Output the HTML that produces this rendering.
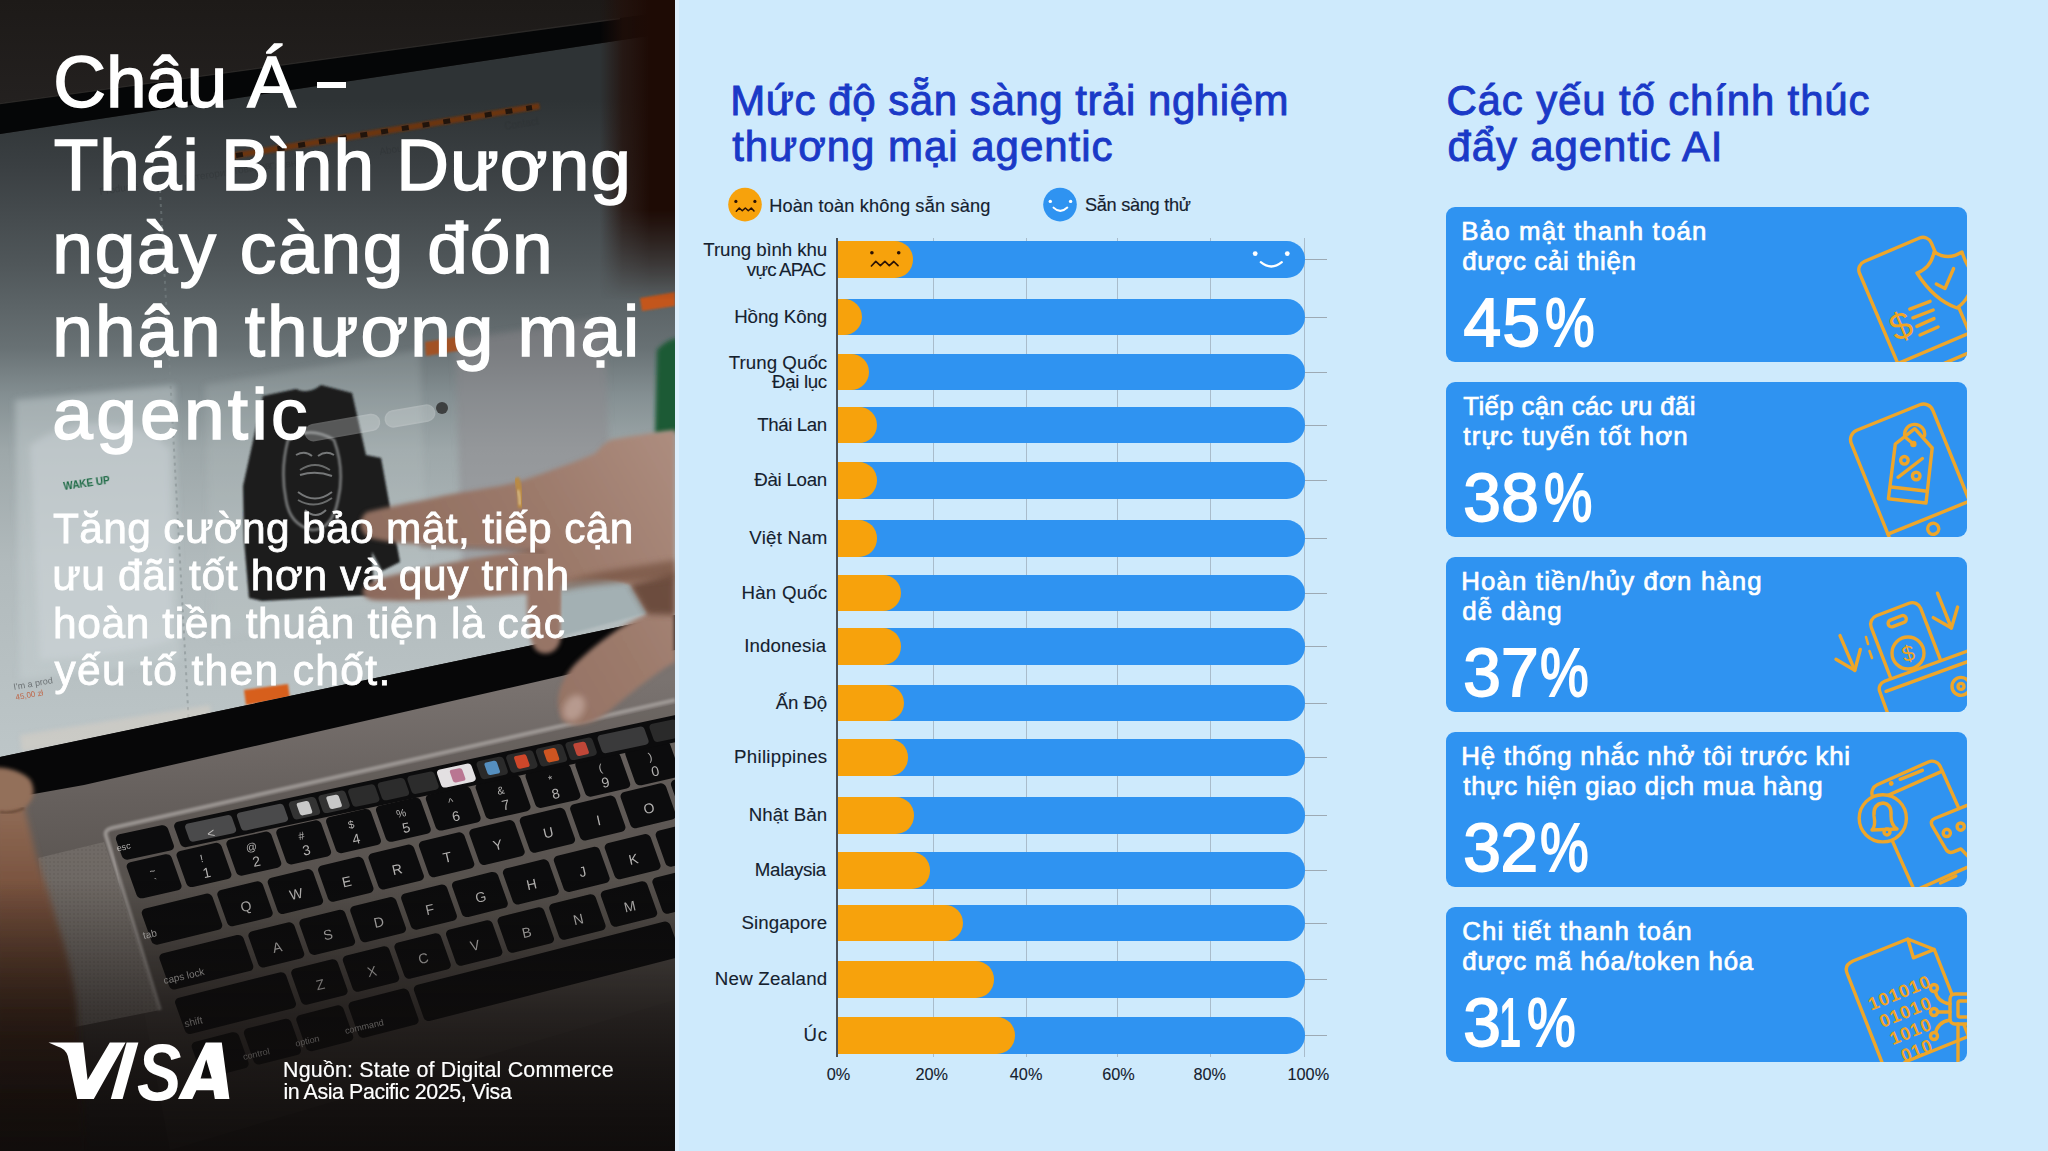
<!DOCTYPE html>
<html><head><meta charset="utf-8">
<style>
*{margin:0;padding:0;box-sizing:border-box}
html,body{width:2048px;height:1151px;overflow:hidden;background:#CEEAFC;font-family:"Liberation Sans",sans-serif}
.abs{position:absolute}
.tx{position:absolute;white-space:pre;font-family:"Liberation Sans",sans-serif}
#photo{position:absolute;left:0;top:0;width:675px;height:1151px;overflow:hidden;background:#222}
#edge{position:absolute;left:675px;top:0;width:4px;height:1151px;background:#DCEFFD}
.xl{position:absolute;color:#15212e;font-size:16.3px;line-height:18px;width:60px;text-align:center;top:1064.5px;-webkit-text-stroke:0.1px #15212e}
.grid{position:absolute;top:238px;height:819px;width:1px;background:#A9BCCB}
.tick{position:absolute;left:1305px;width:22px;height:1px;background:#9DAAB4}
.bar{position:absolute;left:838px;width:466.5px;height:36.4px;background:#2F93F1;border-radius:0 18.2px 18.2px 0}
.or{position:absolute;left:838px;height:36.4px;background:#F7A20C;border-radius:0 18.2px 18.2px 0}
.card{position:absolute;left:1446px;width:521px;height:155px;background:#2F93F1;border-radius:9px;overflow:hidden}
.card svg{position:absolute;left:0;top:0}
</style></head><body>
<div id="photo">
<svg width="675" height="1151" viewBox="0 0 675 1151">
<defs>
<linearGradient id="scr" gradientUnits="userSpaceOnUse" x1="0" y1="100" x2="0" y2="760">
 <stop offset="0" stop-color="#2e3335"/>
 <stop offset="0.1" stop-color="#3a3f42"/>
 <stop offset="0.25" stop-color="#50575a"/>
 <stop offset="0.375" stop-color="#687174"/>
 <stop offset="0.45" stop-color="#859093"/>
 <stop offset="0.53" stop-color="#9da7a9"/>
 <stop offset="0.7" stop-color="#b1babc"/>
 <stop offset="1" stop-color="#bdc6c8"/>
</linearGradient>
<linearGradient id="body" gradientUnits="userSpaceOnUse" x1="0" y1="680" x2="0" y2="1151">
 <stop offset="0" stop-color="#7a7370"/>
 <stop offset="0.25" stop-color="#66605d"/>
 <stop offset="0.5" stop-color="#55504c"/>
 <stop offset="0.75" stop-color="#332e2c"/>
 <stop offset="1" stop-color="#141111"/>
</linearGradient>
<linearGradient id="top" gradientUnits="userSpaceOnUse" x1="0" y1="0" x2="0" y2="110">
 <stop offset="0" stop-color="#1d1a18"/>
 <stop offset="1" stop-color="#242120"/>
</linearGradient>
<linearGradient id="rd" gradientUnits="userSpaceOnUse" x1="0" y1="0" x2="0" y2="300">
 <stop offset="0" stop-color="#1c0a04"/>
 <stop offset="0.55" stop-color="#2a1107"/>
 <stop offset="0.8" stop-color="#2e1208" stop-opacity="0.7"/>
 <stop offset="1" stop-color="#2e1208" stop-opacity="0"/>
</linearGradient>
<linearGradient id="skin" gradientUnits="userSpaceOnUse" x1="675" y1="430" x2="380" y2="600">
 <stop offset="0" stop-color="#ad8d7f"/>
 <stop offset="0.45" stop-color="#9c7a6b"/>
 <stop offset="1" stop-color="#8d6b5d"/>
</linearGradient>
<linearGradient id="lhand" gradientUnits="userSpaceOnUse" x1="0" y1="770" x2="0" y2="1151">
 <stop offset="0" stop-color="#9a7660"/>
 <stop offset="0.3" stop-color="#7a5440"/>
 <stop offset="0.7" stop-color="#3a2418"/>
 <stop offset="1" stop-color="#1a0f0a"/>
</linearGradient>
<linearGradient id="bot" gradientUnits="userSpaceOnUse" x1="0" y1="880" x2="0" y2="1151">
 <stop offset="0" stop-color="#100d0c" stop-opacity="0"/>
 <stop offset="0.5" stop-color="#100d0c" stop-opacity="0.5"/>
 <stop offset="1" stop-color="#100d0c" stop-opacity="0.85"/>
</linearGradient>
<linearGradient id="rdh" gradientUnits="userSpaceOnUse" x1="600" y1="0" x2="650" y2="0">
 <stop offset="0" stop-color="#23100a" stop-opacity="0"/>
 <stop offset="0.45" stop-color="#23100a" stop-opacity="0.75"/>
 <stop offset="1" stop-color="#1e0b05" stop-opacity="1"/>
</linearGradient>
<linearGradient id="rdv" gradientUnits="userSpaceOnUse" x1="0" y1="0" x2="0" y2="300">
 <stop offset="0" stop-color="#fff"/>
 <stop offset="0.7" stop-color="#fff"/>
 <stop offset="1" stop-color="#fff" stop-opacity="0"/>
</linearGradient>
<mask id="rdm" maskUnits="userSpaceOnUse" x="0" y="0" width="675" height="400"><rect x="560" y="0" width="120" height="310" fill="url(#rdv)"/></mask>
<filter id="b1" x="-20%" y="-20%" width="140%" height="140%"><feGaussianBlur stdDeviation="1"/></filter>
<filter id="b2" x="-20%" y="-20%" width="140%" height="140%"><feGaussianBlur stdDeviation="2"/></filter>
<filter id="b3" x="-20%" y="-20%" width="140%" height="140%"><feGaussianBlur stdDeviation="3"/></filter>
<filter id="b6" x="-30%" y="-30%" width="160%" height="160%"><feGaussianBlur stdDeviation="6"/></filter>
<filter id="b12" x="-50%" y="-50%" width="200%" height="200%"><feGaussianBlur stdDeviation="12"/></filter>
<pattern id="mesh" width="4" height="4" patternUnits="userSpaceOnUse"><rect width="4" height="4" fill="#7c7671"/><circle cx="2" cy="2" r="0.8" fill="#66605b"/></pattern>
<clipPath id="scrclip"><polygon points="0,134 675,32 675,615 0,757"/></clipPath>
</defs>
<rect width="675" height="1151" fill="url(#top)"/>
<polygon points="0,134 675,32 675,615 0,757" fill="url(#scr)"/>
<g clip-path="url(#scrclip)">
<g filter="url(#b3)">
<polygon points="15,400 175,385 180,660 20,680" fill="#c8d0d2" opacity="0.45"/>
<path d="M30,445 Q70,418 110,425 Q150,425 170,450 L172,640 Q130,655 40,660 Z" fill="#d3d9db" opacity="0.4"/>
<polygon points="455,340 605,318 612,555 462,570" fill="#8c878b" opacity="0.5"/>
<polygon points="205,385 420,350 428,600 212,640" fill="#c0c8ca" opacity="0.2"/>
</g>
<line x1="160" y1="190" x2="190" y2="745" stroke="#7e888a" stroke-width="2" opacity="0.5" stroke-dasharray="3 4"/>
<polygon points="231,153 539,103 540,109 232,159" fill="#6e3410" opacity="0.95" filter="url(#b1)"/>
<line x1="236" y1="155.5" x2="532" y2="107.5" stroke="#0a0a0a" stroke-width="5" stroke-dasharray="7 14" opacity="0.75"/>
<g fill="#2a2e30" opacity="0.35" font-family="Liberation Sans" font-size="10">
<text x="100" y="195" transform="rotate(-9 100 195)">Products</text>
<text x="185" y="182" transform="rotate(-9 185 182)">Категории товаров</text>
<text x="270" y="170" transform="rotate(-9 270 170)">Главная</text>
<text x="380" y="155" transform="rotate(-9 380 155)">About</text>
<text x="505" y="130" transform="rotate(-9 505 130)">Contact</text>
</g>
<path d="M263,396 L296,389 Q308,395 321,385 L352,393 L366,455 L381,458 L400,562 L382,571 L372,552 L374,595 L262,601 L249,598 L244,540 L243,486 Z" fill="#1b1d1f" filter="url(#b1)"/>
<path d="M288,440 Q310,425 334,440 Q345,470 338,500 Q332,530 312,530 Q290,525 286,500 Q280,470 288,440 Z" fill="none" stroke="#d0d4d5" stroke-width="2.5" opacity="0.55" filter="url(#b1)"/>
<path d="M296,455 Q305,450 312,456 M318,456 Q326,450 334,455 M300,475 Q316,470 332,476 M298,492 Q315,505 332,492 M305,510 Q316,520 326,510" fill="none" stroke="#d0d4d5" stroke-width="2" opacity="0.5"/>
<path d="M300,470 Q315,460 330,470 M298,500 Q315,510 332,498" fill="none" stroke="#c8cccd" stroke-width="2" opacity="0.45"/>
<rect x="305" y="420" width="75" height="16" rx="8" fill="#dfe3e4" opacity="0.3" stroke="#eef0f0" stroke-width="1.5" transform="rotate(-10 340 428)"/>
<rect x="385" y="408" width="50" height="16" rx="8" fill="#dfe3e4" opacity="0.3" stroke="#eef0f0" stroke-width="1.5" transform="rotate(-10 410 416)"/>
<circle cx="442" cy="408" r="6" fill="#2a2a2a" opacity="0.8"/>
<path d="M657,350 Q668,338 680,338 L680,432 L655,434 Z" fill="#1a5a36" filter="url(#b2)"/>
<polygon points="244,690 288,684 290,699 246,705" fill="#d75f1c" filter="url(#b1)"/>
<polygon points="640,298 675,292 675,306 642,311" fill="#c3561c" filter="url(#b1)"/>
<polygon points="425,342 462,336 463,350 426,356" fill="#a9501c" opacity="0.9" filter="url(#b1)"/>
<text x="64" y="490" font-size="10" font-weight="bold" fill="#1d6a45" font-family="Liberation Sans" transform="rotate(-8 64 490)">WAKE UP</text>
<g fill="#5a5f62" font-family="Liberation Sans" font-size="9" opacity="0.8"><text x="14" y="690" transform="rotate(-10 14 690)">I&#39;m a prod</text></g>
<g fill="#c0502a" font-family="Liberation Sans" font-size="8" opacity="0.8"><text x="16" y="700" transform="rotate(-10 16 700)">45,00 zł</text></g>
<polygon points="20,735 210,705 212,725 22,752" fill="#d7cfc5" opacity="0.55" filter="url(#b2)"/>
</g>
<polygon points="0,103 675,10.5 675,32 0,134" fill="#050607"/>
<line x1="0" y1="103.5" x2="620" y2="18.5" stroke="#2f2c2a" stroke-width="1.5" opacity="0.9"/>
<rect x="590" y="0" width="90" height="310" fill="url(#rdh)" mask="url(#rdm)"/>
<polygon points="0,790 675,645 675,1151 0,1151" fill="url(#body)"/>
<polygon points="0,757 675,615 675,650 84,785 0,800" fill="#070708"/>
<path d="M160,1010 L106,836 Q104,830 112,828 L675,700" fill="none" stroke="#aaa5a2" stroke-width="4" opacity="0.75" filter="url(#b1)"/>
<polygon points="110,832 675,704 675,1000 170,1150" fill="#4a4542" opacity="0.2"/>
<polygon points="38,858 104,842 160,1010 60,1030" fill="url(#mesh)" opacity="0.6"/>
<g transform="matrix(49.85,-11.3,16,45,121.20,859.40)">
<rect x="0.05" y="0.1" width="0.90" height="0.8" rx="0.1" fill="#0c0c0d"/>
<rect x="1.05" y="0.1" width="0.90" height="0.8" rx="0.1" fill="#0c0c0d"/>
<rect x="2.05" y="0.1" width="0.90" height="0.8" rx="0.1" fill="#0c0c0d"/>
<rect x="3.05" y="0.1" width="0.90" height="0.8" rx="0.1" fill="#0c0c0d"/>
<rect x="4.05" y="0.1" width="0.90" height="0.8" rx="0.1" fill="#0c0c0d"/>
<rect x="5.05" y="0.1" width="0.90" height="0.8" rx="0.1" fill="#0c0c0d"/>
<rect x="6.05" y="0.1" width="0.90" height="0.8" rx="0.1" fill="#0c0c0d"/>
<rect x="7.05" y="0.1" width="0.90" height="0.8" rx="0.1" fill="#0c0c0d"/>
<rect x="8.05" y="0.1" width="0.90" height="0.8" rx="0.1" fill="#0c0c0d"/>
<rect x="9.05" y="0.1" width="0.90" height="0.8" rx="0.1" fill="#0c0c0d"/>
<rect x="10.05" y="0.1" width="0.90" height="0.8" rx="0.1" fill="#0c0c0d"/>
<rect x="11.05" y="0.1" width="0.90" height="0.8" rx="0.1" fill="#0c0c0d"/>
<rect x="12.05" y="0.1" width="0.90" height="0.8" rx="0.1" fill="#0c0c0d"/>
<rect x="13.05" y="0.1" width="1.40" height="0.8" rx="0.1" fill="#0c0c0d"/>
</g>
<g transform="matrix(50.4,-12.25,16,45,136.20,905.80)">
<rect x="0.05" y="0.1" width="1.40" height="0.8" rx="0.1" fill="#0c0c0d"/>
<rect x="1.55" y="0.1" width="0.90" height="0.8" rx="0.1" fill="#0c0c0d"/>
<rect x="2.55" y="0.1" width="0.90" height="0.8" rx="0.1" fill="#0c0c0d"/>
<rect x="3.55" y="0.1" width="0.90" height="0.8" rx="0.1" fill="#0c0c0d"/>
<rect x="4.55" y="0.1" width="0.90" height="0.8" rx="0.1" fill="#0c0c0d"/>
<rect x="5.55" y="0.1" width="0.90" height="0.8" rx="0.1" fill="#0c0c0d"/>
<rect x="6.55" y="0.1" width="0.90" height="0.8" rx="0.1" fill="#0c0c0d"/>
<rect x="7.55" y="0.1" width="0.90" height="0.8" rx="0.1" fill="#0c0c0d"/>
<rect x="8.55" y="0.1" width="0.90" height="0.8" rx="0.1" fill="#0c0c0d"/>
<rect x="9.55" y="0.1" width="0.90" height="0.8" rx="0.1" fill="#0c0c0d"/>
<rect x="10.55" y="0.1" width="0.90" height="0.8" rx="0.1" fill="#0c0c0d"/>
<rect x="11.55" y="0.1" width="0.90" height="0.8" rx="0.1" fill="#0c0c0d"/>
<rect x="12.55" y="0.1" width="0.90" height="0.8" rx="0.1" fill="#0c0c0d"/>
<rect x="13.55" y="0.1" width="0.90" height="0.8" rx="0.1" fill="#0c0c0d"/>
</g>
<g transform="matrix(50.9,-12.6,16,45,153.80,950.75)">
<rect x="0.05" y="0.1" width="1.65" height="0.8" rx="0.1" fill="#0c0c0d"/>
<rect x="1.80" y="0.1" width="0.90" height="0.8" rx="0.1" fill="#0c0c0d"/>
<rect x="2.80" y="0.1" width="0.90" height="0.8" rx="0.1" fill="#0c0c0d"/>
<rect x="3.80" y="0.1" width="0.90" height="0.8" rx="0.1" fill="#0c0c0d"/>
<rect x="4.80" y="0.1" width="0.90" height="0.8" rx="0.1" fill="#0c0c0d"/>
<rect x="5.80" y="0.1" width="0.90" height="0.8" rx="0.1" fill="#0c0c0d"/>
<rect x="6.80" y="0.1" width="0.90" height="0.8" rx="0.1" fill="#0c0c0d"/>
<rect x="7.80" y="0.1" width="0.90" height="0.8" rx="0.1" fill="#0c0c0d"/>
<rect x="8.80" y="0.1" width="0.90" height="0.8" rx="0.1" fill="#0c0c0d"/>
<rect x="9.80" y="0.1" width="0.90" height="0.8" rx="0.1" fill="#0c0c0d"/>
<rect x="10.80" y="0.1" width="0.90" height="0.8" rx="0.1" fill="#0c0c0d"/>
<rect x="11.80" y="0.1" width="0.90" height="0.8" rx="0.1" fill="#0c0c0d"/>
<rect x="12.80" y="0.1" width="1.65" height="0.8" rx="0.1" fill="#0c0c0d"/>
</g>
<g transform="matrix(51.6,-13.0,16,45,169.50,995.25)">
<rect x="0.05" y="0.1" width="2.15" height="0.8" rx="0.1" fill="#0c0c0d"/>
<rect x="2.30" y="0.1" width="0.90" height="0.8" rx="0.1" fill="#0c0c0d"/>
<rect x="3.30" y="0.1" width="0.90" height="0.8" rx="0.1" fill="#0c0c0d"/>
<rect x="4.30" y="0.1" width="0.90" height="0.8" rx="0.1" fill="#0c0c0d"/>
<rect x="5.30" y="0.1" width="0.90" height="0.8" rx="0.1" fill="#0c0c0d"/>
<rect x="6.30" y="0.1" width="0.90" height="0.8" rx="0.1" fill="#0c0c0d"/>
<rect x="7.30" y="0.1" width="0.90" height="0.8" rx="0.1" fill="#0c0c0d"/>
<rect x="8.30" y="0.1" width="0.90" height="0.8" rx="0.1" fill="#0c0c0d"/>
<rect x="9.30" y="0.1" width="0.90" height="0.8" rx="0.1" fill="#0c0c0d"/>
<rect x="10.30" y="0.1" width="0.90" height="0.8" rx="0.1" fill="#0c0c0d"/>
<rect x="11.30" y="0.1" width="0.90" height="0.8" rx="0.1" fill="#0c0c0d"/>
<rect x="12.30" y="0.1" width="2.65" height="0.8" rx="0.1" fill="#0c0c0d"/>
</g>
<g transform="matrix(52.3,-13.4,16,45,186.00,1039.25)">
<rect x="0.05" y="0.1" width="0.90" height="0.8" rx="0.1" fill="#0c0c0d"/>
<rect x="1.05" y="0.1" width="0.90" height="0.8" rx="0.1" fill="#0c0c0d"/>
<rect x="2.05" y="0.1" width="0.90" height="0.8" rx="0.1" fill="#0c0c0d"/>
<rect x="3.05" y="0.1" width="1.15" height="0.8" rx="0.1" fill="#0c0c0d"/>
<rect x="4.30" y="0.1" width="4.90" height="0.8" rx="0.1" fill="#0c0c0d"/>
<rect x="9.30" y="0.1" width="1.15" height="0.8" rx="0.1" fill="#0c0c0d"/>
<rect x="10.55" y="0.1" width="0.90" height="0.8" rx="0.1" fill="#0c0c0d"/>
</g>
<g transform="matrix(49.4,-10.6,16,45,110.00,825.70)">
<rect x="0.02" y="0.22" width="1.05" height="0.56" rx="0.1" fill="#0c0c0d"/>
<rect x="1.2" y="0.22" width="14" height="0.56" rx="0.1" fill="#0c0c0d"/>
<rect x="1.4" y="0.3" width="0.95" height="0.4" rx="0.08" fill="#4a4a4b"/>
<rect x="2.45" y="0.3" width="0.95" height="0.4" rx="0.08" fill="#4a4a4b"/>
<rect x="3.5" y="0.3" width="0.55" height="0.4" rx="0.08" fill="#333"/>
<rect x="4.1" y="0.3" width="0.55" height="0.4" rx="0.08" fill="#333"/>
<rect x="4.7" y="0.3" width="0.55" height="0.4" rx="0.08" fill="#2c2c2c"/>
<rect x="5.3" y="0.3" width="0.55" height="0.4" rx="0.08" fill="#2c2c2c"/>
<rect x="5.9" y="0.3" width="0.55" height="0.4" rx="0.08" fill="#2c2c2c"/>
<rect x="6.5" y="0.3" width="0.7" height="0.4" rx="0.08" fill="#e3e0e2"/>
<rect x="7.3" y="0.3" width="0.55" height="0.4" rx="0.08" fill="#2a2a2a"/>
<rect x="7.9" y="0.3" width="0.55" height="0.4" rx="0.08" fill="#2a2a2a"/>
<rect x="8.5" y="0.3" width="0.55" height="0.4" rx="0.08" fill="#2a2a2a"/>
<rect x="9.1" y="0.3" width="0.55" height="0.4" rx="0.08" fill="#2a2a2a"/>
<rect x="9.75" y="0.3" width="0.95" height="0.4" rx="0.08" fill="#3a3a3b"/>
<rect x="10.8" y="0.3" width="0.55" height="0.4" rx="0.08" fill="#2a2a2a"/>
<rect x="11.4" y="0.3" width="0.55" height="0.4" rx="0.08" fill="#2a2a2a"/>
<rect x="3.65" y="0.36" width="0.25" height="0.28" rx="0.05" fill="#d8d8d8" opacity="0.9"/>
<rect x="4.25" y="0.36" width="0.25" height="0.28" rx="0.05" fill="#d8d8d8" opacity="0.9"/>
<rect x="6.75" y="0.36" width="0.25" height="0.28" rx="0.05" fill="#b46a8a" opacity="0.9"/>
<rect x="7.45" y="0.36" width="0.25" height="0.28" rx="0.05" fill="#5a9ad0" opacity="0.9"/>
<rect x="8.05" y="0.36" width="0.25" height="0.28" rx="0.05" fill="#e04a2a" opacity="0.9"/>
<rect x="8.65" y="0.36" width="0.25" height="0.28" rx="0.05" fill="#e05a20" opacity="0.9"/>
<rect x="9.25" y="0.36" width="0.25" height="0.28" rx="0.05" fill="#d04a3a" opacity="0.9"/>
</g>
<g font-family="Liberation Sans" fill="#d2d0ce" opacity="0.85">
<text x="116.7" y="851.6" font-size="9" text-anchor="start" transform="rotate(-13 116.7 848.3)">esc</text>
<text x="211.0" y="837.8" font-size="13" text-anchor="middle" transform="rotate(-13 211.0 833.1)"><</text>
<text x="152.2" y="874.5" font-size="10" text-anchor="middle" transform="rotate(-13 152.2 870.9)">~</text>
<text x="156.0" y="885.2" font-size="10" text-anchor="middle" transform="rotate(-13 156.0 881.6)">`</text>
<text x="201.6" y="862.2" font-size="11" text-anchor="middle" transform="rotate(-13 201.6 858.2)">!</text>
<text x="206.7" y="877.6" font-size="14" text-anchor="middle" transform="rotate(-13 206.7 872.6)">1</text>
<text x="251.4" y="850.9" font-size="11" text-anchor="middle" transform="rotate(-13 251.4 846.9)">@</text>
<text x="256.5" y="866.3" font-size="14" text-anchor="middle" transform="rotate(-13 256.5 861.3)">2</text>
<text x="301.3" y="839.6" font-size="11" text-anchor="middle" transform="rotate(-13 301.3 835.6)">#</text>
<text x="306.4" y="855.0" font-size="14" text-anchor="middle" transform="rotate(-13 306.4 850.0)">3</text>
<text x="351.1" y="828.3" font-size="11" text-anchor="middle" transform="rotate(-13 351.1 824.3)">$</text>
<text x="356.2" y="843.7" font-size="14" text-anchor="middle" transform="rotate(-13 356.2 838.7)">4</text>
<text x="401.0" y="817.0" font-size="11" text-anchor="middle" transform="rotate(-13 401.0 813.0)">%</text>
<text x="406.1" y="832.4" font-size="14" text-anchor="middle" transform="rotate(-13 406.1 827.4)">5</text>
<text x="450.8" y="805.7" font-size="11" text-anchor="middle" transform="rotate(-13 450.8 801.7)">^</text>
<text x="455.9" y="821.1" font-size="14" text-anchor="middle" transform="rotate(-13 455.9 816.1)">6</text>
<text x="500.7" y="794.4" font-size="11" text-anchor="middle" transform="rotate(-13 500.7 790.4)">&</text>
<text x="505.8" y="809.8" font-size="14" text-anchor="middle" transform="rotate(-13 505.8 804.8)">7</text>
<text x="550.5" y="783.1" font-size="11" text-anchor="middle" transform="rotate(-13 550.5 779.1)">*</text>
<text x="555.6" y="798.5" font-size="14" text-anchor="middle" transform="rotate(-13 555.6 793.5)">8</text>
<text x="600.4" y="771.8" font-size="11" text-anchor="middle" transform="rotate(-13 600.4 767.8)">(</text>
<text x="605.5" y="787.2" font-size="14" text-anchor="middle" transform="rotate(-13 605.5 782.2)">9</text>
<text x="650.2" y="760.5" font-size="11" text-anchor="middle" transform="rotate(-13 650.2 756.5)">)</text>
<text x="655.3" y="775.9" font-size="14" text-anchor="middle" transform="rotate(-13 655.3 770.9)">0</text>
<text x="245.8" y="911.1" font-size="14" text-anchor="middle" transform="rotate(-13 245.8 906.0)">Q</text>
<text x="296.2" y="898.8" font-size="14" text-anchor="middle" transform="rotate(-13 296.2 893.8)">W</text>
<text x="346.6" y="886.6" font-size="14" text-anchor="middle" transform="rotate(-13 346.6 881.5)">E</text>
<text x="397.0" y="874.3" font-size="14" text-anchor="middle" transform="rotate(-13 397.0 869.3)">R</text>
<text x="447.4" y="862.1" font-size="14" text-anchor="middle" transform="rotate(-13 447.4 857.0)">T</text>
<text x="497.8" y="849.8" font-size="14" text-anchor="middle" transform="rotate(-13 497.8 844.8)">Y</text>
<text x="548.2" y="837.6" font-size="14" text-anchor="middle" transform="rotate(-13 548.2 832.5)">U</text>
<text x="598.6" y="825.3" font-size="14" text-anchor="middle" transform="rotate(-13 598.6 820.3)">I</text>
<text x="649.0" y="813.1" font-size="14" text-anchor="middle" transform="rotate(-13 649.0 808.0)">O</text>
<text x="699.4" y="800.8" font-size="14" text-anchor="middle" transform="rotate(-13 699.4 795.8)">P</text>
<text x="277.1" y="952.2" font-size="14" text-anchor="middle" transform="rotate(-13 277.1 947.1)">A</text>
<text x="328.0" y="939.6" font-size="14" text-anchor="middle" transform="rotate(-13 328.0 934.5)">S</text>
<text x="378.9" y="927.0" font-size="14" text-anchor="middle" transform="rotate(-13 378.9 922.0)">D</text>
<text x="429.8" y="914.4" font-size="14" text-anchor="middle" transform="rotate(-13 429.8 909.4)">F</text>
<text x="480.7" y="901.8" font-size="14" text-anchor="middle" transform="rotate(-13 480.7 896.8)">G</text>
<text x="531.6" y="889.2" font-size="14" text-anchor="middle" transform="rotate(-13 531.6 884.1)">H</text>
<text x="582.5" y="876.6" font-size="14" text-anchor="middle" transform="rotate(-13 582.5 871.5)">J</text>
<text x="633.4" y="864.0" font-size="14" text-anchor="middle" transform="rotate(-13 633.4 859.0)">K</text>
<text x="684.3" y="851.4" font-size="14" text-anchor="middle" transform="rotate(-13 684.3 846.4)">L</text>
<text x="320.2" y="989.3" font-size="14" text-anchor="middle" transform="rotate(-13 320.2 984.2)">Z</text>
<text x="371.8" y="976.3" font-size="14" text-anchor="middle" transform="rotate(-13 371.8 971.2)">X</text>
<text x="423.4" y="963.3" font-size="14" text-anchor="middle" transform="rotate(-13 423.4 958.2)">C</text>
<text x="475.0" y="950.3" font-size="14" text-anchor="middle" transform="rotate(-13 475.0 945.2)">V</text>
<text x="526.6" y="937.3" font-size="14" text-anchor="middle" transform="rotate(-13 526.6 932.2)">B</text>
<text x="578.2" y="924.3" font-size="14" text-anchor="middle" transform="rotate(-13 578.2 919.2)">N</text>
<text x="629.8" y="911.3" font-size="14" text-anchor="middle" transform="rotate(-13 629.8 906.2)">M</text>
<text x="143.0" y="939.1" font-size="10" text-anchor="start" transform="rotate(-13 143.0 935.5)">tab</text>
<text x="163.5" y="984.2" font-size="10" text-anchor="start" transform="rotate(-13 163.5 980.6)">caps lock</text>
<text x="184.5" y="1027.3" font-size="10" text-anchor="start" transform="rotate(-13 184.5 1023.8)">shift</text>
<text x="243.1" y="1060.2" font-size="9" text-anchor="start" transform="rotate(-13 243.1 1056.9)">control</text>
<text x="295.3" y="1046.8" font-size="9" text-anchor="start" transform="rotate(-13 295.3 1043.5)">option</text>
<text x="345.0" y="1034.0" font-size="9" text-anchor="start" transform="rotate(-13 345.0 1030.8)">command</text>
</g>
<g filter="url(#b2)">
<path d="M675,430 C660,432 630,436 610,440 C600,446 598,452 594,454 C575,462 560,467 547,472 C530,478 515,483 500,486 C470,491 450,494 438,497 C410,503 385,507 367,512 C358,518 358,532 370,538 C390,543 420,545 450,546 C480,547 510,548 530,550 C480,556 430,566 385,577 C362,583 355,595 372,600 C410,603 480,598 527,594 C527,615 528,640 536,650 C546,658 560,652 561,636 L562,598 L562,584 C585,578 610,577 630,585 C640,600 645,610 647,614 C620,625 595,645 576,663 C560,680 553,700 562,720 C578,732 600,720 615,706 C640,685 660,670 675,662 Z" fill="url(#skin)"/>
</g>
<path d="M562,586 C585,580 610,578 630,586 L646,613 L562,636 Z" fill="#a3b0b3" filter="url(#b1)"/>
<path d="M630,585 C650,580 665,575 675,572 L675,615 L647,614 Z" fill="#5e4032" opacity="0.8" filter="url(#b3)"/>
<path d="M562,584 C585,572 630,568 675,560 L675,578 C640,582 600,582 562,590 Z" fill="#74513f" opacity="0.7" filter="url(#b3)"/>
<path d="M420,546 C470,548 500,548 545,552" stroke="#6e5044" stroke-width="3" fill="none" opacity="0.6" filter="url(#b2)"/>
<path d="M530,596 L530,645" stroke="#6a4a3c" stroke-width="8" fill="none" opacity="0.35" filter="url(#b3)"/>
<ellipse cx="574" cy="708" rx="10" ry="14" fill="#cdb3aa" opacity="0.6" filter="url(#b3)" transform="rotate(30 574 708)"/>
<path d="M516,478 Q521,490 521,508" stroke="#b98a45" stroke-width="6" fill="none" filter="url(#b1)"/>
<path d="M518,490 Q520,498 520,505" stroke="#e8d2a8" stroke-width="2" fill="none" opacity="0.8" filter="url(#b1)"/>
<path d="M-5,770 Q15,772 28,782 Q38,795 24,806 Q30,830 36,855 Q48,890 58,925 Q70,960 76,1000 Q82,1070 84,1151 L-5,1151 Z" fill="url(#lhand)" filter="url(#b3)"/>
<path d="M-5,768 Q18,768 30,780 Q36,795 26,806 Q12,812 -5,810 Z" fill="#93705a" filter="url(#b2)"/>
<path d="M0,812 Q12,814 24,808" stroke="#4a3020" stroke-width="2" fill="none" opacity="0.6" filter="url(#b1)"/>
<rect x="0" y="880" width="675" height="271" fill="url(#bot)"/>
</svg>
</div>
<div id="edge"></div>
<svg class="abs" style="left:0;top:1000px" width="260" height="120" viewBox="0 1000 260 120">
<g fill="#fff">
<path d="M48.5,1042.6 L83.2,1042.6 L87.6,1080 L109.8,1042.6 L125.6,1042.6 L93.8,1098.9 L77.2,1098.9 L67.8,1056 Q65.5,1048.5 57,1046.2 Z"/>
<path d="M126.6,1042.6 L138.4,1042.6 L122.6,1098.9 L110.8,1098.9 Z"/>
<path fill-rule="evenodd" d="M205.8,1042.6 L221.8,1042.6 L229.4,1098.9 L214.8,1098.9 L213.4,1090.3 L196.4,1090.3 L192.3,1098.9 L178,1098.9 Z M206.2,1059.5 L200.6,1078.4 L211.8,1078.4 Z"/>
<text x="0" y="0" font-family="Liberation Sans" font-weight="bold" font-style="italic" font-size="79.19" transform="translate(137.00,1099.6) scale(0.839,1)">S</text>
</g></svg>
<div class="grid" style="left:932.9px"></div>
<div class="grid" style="left:1025.9px"></div>
<div class="grid" style="left:1117.2px"></div>
<div class="grid" style="left:1209.8px"></div>
<div class="grid" style="left:1304.1px"></div>
<div class="tick" style="top:258.9px"></div>
<div class="tick" style="top:316.6px"></div>
<div class="tick" style="top:371.7px"></div>
<div class="tick" style="top:424.8px"></div>
<div class="tick" style="top:480.0px"></div>
<div class="tick" style="top:538.1px"></div>
<div class="tick" style="top:592.8px"></div>
<div class="tick" style="top:645.9px"></div>
<div class="tick" style="top:702.6px"></div>
<div class="tick" style="top:756.9px"></div>
<div class="tick" style="top:814.9px"></div>
<div class="tick" style="top:869.9px"></div>
<div class="tick" style="top:922.6px"></div>
<div class="tick" style="top:978.9px"></div>
<div class="tick" style="top:1034.9px"></div>
<div class="bar" style="top:241.2px"></div>
<div class="or" style="top:241.2px;width:74.5px"></div>
<div class="bar" style="top:298.9px"></div>
<div class="or" style="top:298.9px;width:23.6px"></div>
<div class="bar" style="top:354.0px"></div>
<div class="or" style="top:354.0px;width:30.9px"></div>
<div class="bar" style="top:407.1px"></div>
<div class="or" style="top:407.1px;width:39.4px"></div>
<div class="bar" style="top:462.3px"></div>
<div class="or" style="top:462.3px;width:39.4px"></div>
<div class="bar" style="top:520.4px"></div>
<div class="or" style="top:520.4px;width:39.4px"></div>
<div class="bar" style="top:575.1px"></div>
<div class="or" style="top:575.1px;width:62.6px"></div>
<div class="bar" style="top:628.2px"></div>
<div class="or" style="top:628.2px;width:62.6px"></div>
<div class="bar" style="top:684.9px"></div>
<div class="or" style="top:684.9px;width:65.5px"></div>
<div class="bar" style="top:739.2px"></div>
<div class="or" style="top:739.2px;width:69.9px"></div>
<div class="bar" style="top:797.2px"></div>
<div class="or" style="top:797.2px;width:76.4px"></div>
<div class="bar" style="top:852.2px"></div>
<div class="or" style="top:852.2px;width:91.5px"></div>
<div class="bar" style="top:904.9px"></div>
<div class="or" style="top:904.9px;width:125.1px"></div>
<div class="bar" style="top:961.2px"></div>
<div class="or" style="top:961.2px;width:156.4px"></div>
<div class="bar" style="top:1017.2px"></div>
<div class="or" style="top:1017.2px;width:176.6px"></div>
<div class="abs" style="left:836px;top:238px;width:2px;height:819px;background:#4B5259"></div>
<div class="xl" style="left:808.5px">0%</div>
<div class="xl" style="left:901.7px">20%</div>
<div class="xl" style="left:996.1px">40%</div>
<div class="xl" style="left:1088.5px">60%</div>
<div class="xl" style="left:1179.8px">80%</div>
<div class="xl" style="left:1278.3px">100%</div>
<svg class="abs" style="left:720px;top:180px" width="500" height="50" viewBox="720 180 500 50">
<circle cx="745" cy="204.6" r="16.8" fill="#F7A20C"/>
<circle cx="735.9" cy="201.4" r="1.6" fill="#2a1205"/><circle cx="754.9" cy="201.4" r="1.6" fill="#2a1205"/>
<polyline points="736.3,211.2 739.3,208 742.3,210.8 745.3,208 748.3,210.8 751.3,208 754,211" fill="none" stroke="#2a1205" stroke-width="1.5" stroke-linejoin="round" stroke-linecap="round"/>
<circle cx="1060" cy="204.6" r="16.8" fill="#2F93F1"/>
<circle cx="1050.3" cy="201.4" r="1.7" fill="#fff"/><circle cx="1070.6" cy="201.4" r="1.7" fill="#fff"/>
<path d="M1053.5,207.6 Q1060.3,214.2 1067.3,207.6" fill="none" stroke="#fff" stroke-width="2" stroke-linecap="round"/>
</svg>
<svg class="abs" style="left:838px;top:238px" width="470" height="45" viewBox="838 238 470 45">
<circle cx="871.9" cy="252.7" r="1.8" fill="#2a1205"/><circle cx="898.7" cy="252.7" r="1.8" fill="#2a1205"/>
<polyline points="871.4,266 875.8,261.4 880.4,265.7 884.9,261.4 889.3,265.6 893.8,261.5 898,265.7" fill="none" stroke="#2a1205" stroke-width="1.7" stroke-linejoin="round" stroke-linecap="round"/>
<circle cx="1255.2" cy="253.6" r="2.4" fill="#fff"/><circle cx="1287.3" cy="253.6" r="2.4" fill="#fff"/>
<path d="M1260.8,262.2 Q1271.3,270.8 1281.8,262.2" fill="none" stroke="#fff" stroke-width="2.2" stroke-linecap="round"/>
</svg>
<div class="card" style="top:207px"><svg width="521" height="155" viewBox="1446 207 521 155">
<g transform="translate(1856,265) rotate(-23)">
 <rect x="0" y="0" width="78" height="150" rx="9" stroke="#EEA62A" stroke-width="3.4" fill="none" stroke-linecap="round" stroke-linejoin="round"/>
 <line x1="0" y1="107" x2="78" y2="107" stroke="#EEA62A" stroke-width="3.4" fill="none" stroke-linecap="round" stroke-linejoin="round"/>
 <line x1="38" y1="125" x2="78" y2="125" stroke="#EEA62A" stroke-width="3.4" fill="none" stroke-linecap="round" stroke-linejoin="round"/>
</g>
<path d="M1917,273 Q1931,268 1934,252 Q1948,261 1962,252 Q1966,265 1973,273 Q1973,297 1957,308 Q1934,300 1917,273 Z" fill="#2F93F1" stroke="#EEA62A" stroke-width="3.4" fill="none" stroke-linecap="round" stroke-linejoin="round"/>
<polyline points="1936.3,284.1 1945,288.5 1953.6,268.5" stroke="#EEA62A" stroke-width="3.4" fill="none" stroke-linecap="round" stroke-linejoin="round"/>
<g stroke="#EEA62A" stroke-width="3.4" fill="none" stroke-linecap="round" stroke-linejoin="round">
 <line x1="1909.8" y1="309.2" x2="1930.1" y2="301.3"/>
 <line x1="1912.9" y1="317.8" x2="1933.2" y2="310"/>
 <line x1="1916.8" y1="326.4" x2="1934" y2="318.6"/>
 <line x1="1920" y1="335" x2="1938" y2="327"/>
</g>
<text x="1901" y="339" font-size="38" fill="#F2A422" font-family="Liberation Sans" text-anchor="middle" transform="rotate(-22 1901 326)">$</text>
</svg></div>
<div class="card" style="top:382px"><svg width="521" height="155" viewBox="1446 382 521 155">
<g transform="translate(1847.5,434) rotate(-22)">
 <rect x="0" y="0" width="88" height="150" rx="10" stroke="#EEA62A" stroke-width="3.4" fill="none" stroke-linecap="round" stroke-linejoin="round"/>
 <line x1="0" y1="108" x2="88" y2="108" stroke="#EEA62A" stroke-width="3.4" fill="none" stroke-linecap="round" stroke-linejoin="round"/>
 <circle cx="44" cy="120" r="5.5" stroke="#EEA62A" stroke-width="3.4" fill="none" stroke-linecap="round" stroke-linejoin="round"/>
</g>
<path d="M1905,437 A10,10 0 1 1 1924.5,436" stroke="#EEA62A" stroke-width="3.4" fill="none" stroke-linecap="round" stroke-linejoin="round"/>
<polygon points="1914.8,428.7 1932.2,448 1926,503 1888.4,498.8 1895.3,444" fill="#2F93F1" stroke="#EEA62A" stroke-width="3.4" fill="none" stroke-linecap="round" stroke-linejoin="round"/>
<line x1="1891.2" y1="487" x2="1927.3" y2="491.2" stroke="#EEA62A" stroke-width="3.4" fill="none" stroke-linecap="round" stroke-linejoin="round"/>
<circle cx="1913.4" cy="444" r="3.2" fill="#F2A422"/>
<line x1="1905" y1="437" x2="1913.4" y2="444" stroke="#EEA62A" stroke-width="3.4" fill="none" stroke-linecap="round" stroke-linejoin="round"/>
<circle cx="1904.4" cy="460.3" r="3.8" stroke="#EEA62A" stroke-width="3.4" fill="none" stroke-linecap="round" stroke-linejoin="round" stroke-width="2.8"/>
<circle cx="1916.2" cy="476" r="3.8" stroke="#EEA62A" stroke-width="3.4" fill="none" stroke-linecap="round" stroke-linejoin="round" stroke-width="2.8"/>
<line x1="1898" y1="477.3" x2="1922.4" y2="458.5" stroke="#EEA62A" stroke-width="3.4" fill="none" stroke-linecap="round" stroke-linejoin="round" stroke-width="2.8"/>
</svg></div>
<div class="card" style="top:557px"><svg width="521" height="155" viewBox="1446 557 521 155">
<g transform="translate(1868,619) rotate(-21)">
 <rect x="0" y="0" width="53" height="90" rx="9" stroke="#EEA62A" stroke-width="3.4" fill="none" stroke-linecap="round" stroke-linejoin="round"/>
 <rect x="17" y="9" width="19" height="7" rx="3.5" stroke="#EEA62A" stroke-width="3.4" fill="none" stroke-linecap="round" stroke-linejoin="round"/>
</g>
<circle cx="1908" cy="653" r="16" stroke="#EEA62A" stroke-width="3.4" fill="none" stroke-linecap="round" stroke-linejoin="round"/>
<text x="1908" y="661" font-size="22" fill="#F2A422" font-family="Liberation Sans" text-anchor="middle" transform="rotate(-15 1908 653)">$</text>
<g transform="translate(1877,684) rotate(-20)">
 <rect x="0" y="0" width="105" height="60" rx="8" fill="#2F93F1" stroke="#EEA62A" stroke-width="3.4" fill="none" stroke-linecap="round" stroke-linejoin="round"/>
 <line x1="6" y1="10" x2="100" y2="10" stroke="#EEA62A" stroke-width="3.4" fill="none" stroke-linecap="round" stroke-linejoin="round"/>
</g>
<circle cx="1961" cy="686.4" r="9" fill="#2F93F1" stroke="#EEA62A" stroke-width="3.4" fill="none" stroke-linecap="round" stroke-linejoin="round"/>
<circle cx="1961" cy="686.4" r="3" stroke="#EEA62A" stroke-width="3.4" fill="none" stroke-linecap="round" stroke-linejoin="round" stroke-width="2.6"/>
<g stroke="#EEA62A" stroke-width="3.4" fill="none" stroke-linecap="round" stroke-linejoin="round">
 <line x1="1840" y1="635.6" x2="1854.8" y2="670.4"/>
 <polyline points="1836,659.3 1854.8,670.4 1860.3,649.5"/>
 <line x1="1937.5" y1="593.2" x2="1951.4" y2="628"/>
 <polyline points="1933.3,617.6 1951.4,628 1957.6,607.1"/>
 <line x1="1866" y1="637" x2="1868" y2="644" stroke-width="2.6"/>
 <line x1="1869.5" y1="651" x2="1872" y2="658" stroke-width="2.6"/>
</g>
</svg></div>
<div class="card" style="top:732px"><svg width="521" height="155" viewBox="1446 732 521 155">
<g transform="translate(1869,788.4) rotate(-24)">
 <rect x="0" y="0" width="74" height="150" rx="9" stroke="#EEA62A" stroke-width="3.4" fill="none" stroke-linecap="round" stroke-linejoin="round"/>
 <line x1="0" y1="14" x2="74" y2="14" stroke="#EEA62A" stroke-width="3.4" fill="none" stroke-linecap="round" stroke-linejoin="round"/>
 <line x1="0" y1="112" x2="74" y2="112" stroke="#EEA62A" stroke-width="3.4" fill="none" stroke-linecap="round" stroke-linejoin="round"/>
</g>
<line x1="1900.2" y1="779.3" x2="1922.4" y2="770.3" stroke="#EEA62A" stroke-width="3.4" fill="none" stroke-linecap="round" stroke-linejoin="round"/>
<circle cx="1891.2" cy="783.5" r="2.4" fill="#F2A422"/>
<circle cx="1882.8" cy="818.3" r="23.6" fill="#2F93F1" stroke="#EEA62A" stroke-width="3.4" fill="none" stroke-linecap="round" stroke-linejoin="round"/>
<path d="M1872,830 Q1876,826 1874,816 Q1873,804 1883,803 Q1892,804 1891,816 Q1891,825 1897,829 Z" stroke="#EEA62A" stroke-width="3.4" fill="none" stroke-linecap="round" stroke-linejoin="round" stroke-width="2.8"/>
<circle cx="1887" cy="832" r="3" stroke="#EEA62A" stroke-width="3.4" fill="none" stroke-linecap="round" stroke-linejoin="round" stroke-width="2.6"/>
<g transform="translate(1930,820.4) rotate(-22)">
 <path d="M0,5 Q0,0 5,0 L60,0 L60,38 L28,38 L22,48 L18,38 L10,38 Q5,38 4,33 Z" fill="#2F93F1" stroke="#EEA62A" stroke-width="3.4" fill="none" stroke-linecap="round" stroke-linejoin="round"/>
</g>
<circle cx="1946.8" cy="832.9" r="3.6" stroke="#EEA62A" stroke-width="3.4" fill="none" stroke-linecap="round" stroke-linejoin="round" stroke-width="2.8"/>
<circle cx="1960.7" cy="826.6" r="3.6" stroke="#EEA62A" stroke-width="3.4" fill="none" stroke-linecap="round" stroke-linejoin="round" stroke-width="2.8"/>
<line x1="1940.5" y1="883" x2="1955.8" y2="876" stroke="#EEA62A" stroke-width="3.4" fill="none" stroke-linecap="round" stroke-linejoin="round"/>
</svg></div>
<div class="card" style="top:907px"><svg width="521" height="155" viewBox="1446 907 521 155">
<path d="M1907.8,939 L1853,961 Q1844,965 1847,973 L1885,1070 M1907.8,939 L1934.3,949.5 L1970,1040 M1907.8,939 L1913.4,957.8 L1934.3,949.5" stroke="#EEA62A" stroke-width="3.4" fill="none" stroke-linecap="round" stroke-linejoin="round"/>
<g transform="rotate(-22 1900 1010)" font-family="Liberation Sans" font-weight="bold" fill="#F2A422" font-size="18" letter-spacing="1">
 <text x="1873" y="1000">101010</text>
 <text x="1877" y="1020">01010</text>
 <text x="1880" y="1040">1010</text>
 <text x="1884" y="1060">010</text>
</g>
<g stroke="#EEA62A" stroke-width="3.4" fill="none" stroke-linecap="round" stroke-linejoin="round">
 <rect x="1950" y="994" width="30" height="30" rx="5" fill="#2F93F1"/>
 <rect x="1958" y="1001" width="16" height="16" rx="2"/>
 <path d="M1935,990 Q1937,1002 1950,1004"/>
 <line x1="1936" y1="1012" x2="1950" y2="1012"/>
 <path d="M1935,1035 Q1937,1022 1950,1020"/>
 <line x1="1958" y1="1024" x2="1958" y2="1062"/>
</g>
<circle cx="1934" cy="988" r="3.5" fill="#2F93F1" stroke="#EEA62A" stroke-width="3.4" fill="none" stroke-linecap="round" stroke-linejoin="round" stroke-width="2.8"/>
<circle cx="1934" cy="1012" r="3.5" fill="#2F93F1" stroke="#EEA62A" stroke-width="3.4" fill="none" stroke-linecap="round" stroke-linejoin="round" stroke-width="2.8"/>
<circle cx="1934" cy="1036" r="3.5" fill="#2F93F1" stroke="#EEA62A" stroke-width="3.4" fill="none" stroke-linecap="round" stroke-linejoin="round" stroke-width="2.8"/>
<line x1="1905" y1="1062" x2="1967" y2="1037" stroke="#EEA62A" stroke-width="3.4" fill="none" stroke-linecap="round" stroke-linejoin="round"/>
</svg></div>
<div class="tx" style="left:53.35px;top:40.41px;font-size:73px;line-height:83px;letter-spacing:-0.159px;color:#fff;-webkit-text-stroke:1.5px #fff">Châu Á</div>
<div class="tx" style="left:53.75px;top:123.41px;font-size:73px;line-height:83px;letter-spacing:0.979px;color:#fff;-webkit-text-stroke:1.5px #fff">Thái Bình Dương</div>
<div class="tx" style="left:52.35px;top:206.41px;font-size:73px;line-height:83px;letter-spacing:1.779px;color:#fff;-webkit-text-stroke:1.5px #fff">ngày càng đón</div>
<div class="tx" style="left:52.35px;top:289.41px;font-size:73px;line-height:83px;letter-spacing:1.958px;color:#fff;-webkit-text-stroke:1.5px #fff">nhận thương mại</div>
<div class="tx" style="left:52.25px;top:372.41px;font-size:73px;line-height:83px;letter-spacing:3.301px;color:#fff;-webkit-text-stroke:1.5px #fff">agentic</div>
<div class="tx" style="left:53.00px;top:505.02px;font-size:42.5px;line-height:47.5px;letter-spacing:0.336px;color:#fff;-webkit-text-stroke:0.8px #fff">Tăng cường bảo mật, tiếp cận</div>
<div class="tx" style="left:52.30px;top:552.42px;font-size:42.5px;line-height:47.5px;letter-spacing:0.625px;color:#fff;-webkit-text-stroke:0.8px #fff">ưu đãi tốt hơn và quy trình</div>
<div class="tx" style="left:52.90px;top:599.92px;font-size:42.5px;line-height:47.5px;letter-spacing:0.610px;color:#fff;-webkit-text-stroke:0.8px #fff">hoàn tiền thuận tiện là các</div>
<div class="tx" style="left:54.40px;top:647.42px;font-size:42.5px;line-height:47.5px;letter-spacing:1.354px;color:#fff;-webkit-text-stroke:0.8px #fff">yếu tố then chốt.</div>
<div class="tx" style="left:283.10px;top:1058.58px;font-size:21.4px;line-height:23px;letter-spacing:0.191px;color:#fff;-webkit-text-stroke:0.2px #fff">Nguồn: State of Digital Commerce</div>
<div class="tx" style="left:283.40px;top:1081.38px;font-size:21.4px;line-height:23px;letter-spacing:-0.408px;color:#fff;-webkit-text-stroke:0.2px #fff">in Asia Pacific 2025, Visa</div>
<div class="tx" style="left:730.35px;top:77.85px;font-size:42px;line-height:46.6px;letter-spacing:0.544px;color:#1A39C7;-webkit-text-stroke:0.9px #1A39C7">Mức độ sẵn sàng trải nghiệm</div>
<div class="tx" style="left:732.15px;top:124.45px;font-size:42px;line-height:46.6px;letter-spacing:0.974px;color:#1A39C7;-webkit-text-stroke:0.9px #1A39C7">thương mại agentic</div>
<div class="tx" style="left:1446.45px;top:77.95px;font-size:42px;line-height:46.6px;letter-spacing:0.843px;color:#1A39C7;-webkit-text-stroke:0.9px #1A39C7">Các yếu tố chính thúc</div>
<div class="tx" style="left:1447.45px;top:124.45px;font-size:42px;line-height:46.6px;letter-spacing:0.861px;color:#1A39C7;-webkit-text-stroke:0.9px #1A39C7">đẩy agentic AI</div>
<div class="tx" style="left:769.18px;top:195.69px;font-size:18.2px;line-height:20px;letter-spacing:0.163px;color:#15212e;-webkit-text-stroke:0.15px #15212e">Hoàn toàn không sẵn sàng</div>
<div class="tx" style="left:1084.98px;top:195.49px;font-size:18.2px;line-height:20px;letter-spacing:-0.302px;color:#15212e;-webkit-text-stroke:0.15px #15212e">Sẵn sàng thử</div>
<div class="tx" style="left:703.35px;top:240.42px;font-size:18.7px;line-height:20px;letter-spacing:-0.086px;color:#15212e;-webkit-text-stroke:0.1px #15212e">Trung bình khu</div>
<div class="tx" style="left:746.85px;top:259.52px;font-size:18.7px;line-height:20px;letter-spacing:-0.771px;color:#15212e;-webkit-text-stroke:0.1px #15212e">vực APAC</div>
<div class="tx" style="left:734.15px;top:306.92px;font-size:18.7px;line-height:20px;letter-spacing:-0.052px;color:#15212e;-webkit-text-stroke:0.1px #15212e">Hồng Kông</div>
<div class="tx" style="left:728.75px;top:352.72px;font-size:18.7px;line-height:20px;letter-spacing:0.051px;color:#15212e;-webkit-text-stroke:0.1px #15212e">Trung Quốc</div>
<div class="tx" style="left:772.05px;top:371.82px;font-size:18.7px;line-height:20px;letter-spacing:-0.330px;color:#15212e;-webkit-text-stroke:0.1px #15212e">Đại lục</div>
<div class="tx" style="left:757.35px;top:415.12px;font-size:18.7px;line-height:20px;letter-spacing:-0.404px;color:#15212e;-webkit-text-stroke:0.1px #15212e">Thái Lan</div>
<div class="tx" style="left:754.15px;top:470.32px;font-size:18.7px;line-height:20px;letter-spacing:-0.245px;color:#15212e;-webkit-text-stroke:0.1px #15212e">Đài Loan</div>
<div class="tx" style="left:749.35px;top:528.42px;font-size:18.7px;line-height:20px;letter-spacing:0.222px;color:#15212e;-webkit-text-stroke:0.1px #15212e">Việt Nam</div>
<div class="tx" style="left:741.55px;top:583.12px;font-size:18.7px;line-height:20px;letter-spacing:0.215px;color:#15212e;-webkit-text-stroke:0.1px #15212e">Hàn Quốc</div>
<div class="tx" style="left:744.25px;top:636.22px;font-size:18.7px;line-height:20px;letter-spacing:0.118px;color:#15212e;-webkit-text-stroke:0.1px #15212e">Indonesia</div>
<div class="tx" style="left:775.65px;top:692.92px;font-size:18.7px;line-height:20px;letter-spacing:-0.086px;color:#15212e;-webkit-text-stroke:0.1px #15212e">Ấn Độ</div>
<div class="tx" style="left:734.05px;top:747.22px;font-size:18.7px;line-height:20px;letter-spacing:0.276px;color:#15212e;-webkit-text-stroke:0.1px #15212e">Philippines</div>
<div class="tx" style="left:748.75px;top:805.22px;font-size:18.7px;line-height:20px;letter-spacing:0.082px;color:#15212e;-webkit-text-stroke:0.1px #15212e">Nhật Bản</div>
<div class="tx" style="left:754.85px;top:860.22px;font-size:18.7px;line-height:20px;letter-spacing:-0.335px;color:#15212e;-webkit-text-stroke:0.1px #15212e">Malaysia</div>
<div class="tx" style="left:741.45px;top:912.92px;font-size:18.7px;line-height:20px;letter-spacing:0.074px;color:#15212e;-webkit-text-stroke:0.1px #15212e">Singapore</div>
<div class="tx" style="left:714.85px;top:969.22px;font-size:18.7px;line-height:20px;letter-spacing:0.228px;color:#15212e;-webkit-text-stroke:0.1px #15212e">New Zealand</div>
<div class="tx" style="left:803.45px;top:1025.22px;font-size:18.7px;line-height:20px;letter-spacing:0.904px;color:#15212e;-webkit-text-stroke:0.1px #15212e">Úc</div>
<div class="tx" style="left:1461.35px;top:216.81px;font-size:25.8px;line-height:29.7px;letter-spacing:1.163px;color:#fff;-webkit-text-stroke:0.7px #fff">Bảo mật thanh toán</div>
<div class="tx" style="left:1462.35px;top:246.51px;font-size:25.8px;line-height:29.7px;letter-spacing:0.682px;color:#fff;-webkit-text-stroke:0.7px #fff">được cải thiện</div>
<div class="tx" style="left:1463.35px;top:391.81px;font-size:25.8px;line-height:29.7px;letter-spacing:0.353px;color:#fff;-webkit-text-stroke:0.7px #fff">Tiếp cận các ưu đãi</div>
<div class="tx" style="left:1463.35px;top:421.51px;font-size:25.8px;line-height:29.7px;letter-spacing:1.148px;color:#fff;-webkit-text-stroke:0.7px #fff">trực tuyến tốt hơn</div>
<div class="tx" style="left:1461.35px;top:566.81px;font-size:25.8px;line-height:29.7px;letter-spacing:1.134px;color:#fff;-webkit-text-stroke:0.7px #fff">Hoàn tiền/hủy đơn hàng</div>
<div class="tx" style="left:1462.35px;top:596.51px;font-size:25.8px;line-height:29.7px;letter-spacing:0.983px;color:#fff;-webkit-text-stroke:0.7px #fff">dễ dàng</div>
<div class="tx" style="left:1461.35px;top:741.81px;font-size:25.8px;line-height:29.7px;letter-spacing:0.786px;color:#fff;-webkit-text-stroke:0.7px #fff">Hệ thống nhắc nhở tôi trước khi</div>
<div class="tx" style="left:1463.35px;top:771.51px;font-size:25.8px;line-height:29.7px;letter-spacing:0.711px;color:#fff;-webkit-text-stroke:0.7px #fff">thực hiện giao dịch mua hàng</div>
<div class="tx" style="left:1462.35px;top:916.81px;font-size:25.8px;line-height:29.7px;letter-spacing:1.109px;color:#fff;-webkit-text-stroke:0.7px #fff">Chi tiết thanh toán</div>
<div class="tx" style="left:1462.35px;top:946.51px;font-size:25.8px;line-height:29.7px;letter-spacing:0.786px;color:#fff;-webkit-text-stroke:0.7px #fff">được mã hóa/token hóa</div>
<div class="tx" style="left:1463.50px;top:288.24px;font-size:67.7px;line-height:70px;color:#fff;-webkit-text-stroke:1.8px #fff">4</div>
<div class="tx" style="left:1502.40px;top:288.24px;font-size:67.7px;line-height:70px;color:#fff;-webkit-text-stroke:1.8px #fff">5</div>
<div class="tx" style="left:1544.89px;top:288.24px;font-size:67.7px;line-height:70px;color:#fff;-webkit-text-stroke:1.8px #fff;transform:scaleX(0.825);transform-origin:0 0">%</div>
<div class="tx" style="left:1463.30px;top:463.24px;font-size:67.7px;line-height:70px;color:#fff;-webkit-text-stroke:1.8px #fff">3</div>
<div class="tx" style="left:1501.20px;top:463.24px;font-size:67.7px;line-height:70px;color:#fff;-webkit-text-stroke:1.8px #fff">8</div>
<div class="tx" style="left:1543.92px;top:463.24px;font-size:67.7px;line-height:70px;color:#fff;-webkit-text-stroke:1.8px #fff;transform:scaleX(0.804);transform-origin:0 0">%</div>
<div class="tx" style="left:1463.30px;top:638.24px;font-size:67.7px;line-height:70px;color:#fff;-webkit-text-stroke:1.8px #fff">3</div>
<div class="tx" style="left:1500.90px;top:638.24px;font-size:67.7px;line-height:70px;color:#fff;-webkit-text-stroke:1.8px #fff">7</div>
<div class="tx" style="left:1539.61px;top:638.24px;font-size:67.7px;line-height:70px;color:#fff;-webkit-text-stroke:1.8px #fff;transform:scaleX(0.810);transform-origin:0 0">%</div>
<div class="tx" style="left:1463.30px;top:813.24px;font-size:67.7px;line-height:70px;color:#fff;-webkit-text-stroke:1.8px #fff">3</div>
<div class="tx" style="left:1500.40px;top:813.24px;font-size:67.7px;line-height:70px;color:#fff;-webkit-text-stroke:1.8px #fff">2</div>
<div class="tx" style="left:1539.61px;top:813.24px;font-size:67.7px;line-height:70px;color:#fff;-webkit-text-stroke:1.8px #fff;transform:scaleX(0.810);transform-origin:0 0">%</div>
<div class="tx" style="left:1463.30px;top:988.24px;font-size:67.7px;line-height:70px;color:#fff;-webkit-text-stroke:1.8px #fff">3</div>
<div class="tx" style="left:1498.69px;top:988.24px;font-size:67.7px;line-height:70px;color:#fff;-webkit-text-stroke:1.8px #fff;transform:scaleX(0.588);transform-origin:0 0">1</div>
<div class="tx" style="left:1526.81px;top:988.24px;font-size:67.7px;line-height:70px;color:#fff;-webkit-text-stroke:1.8px #fff;transform:scaleX(0.810);transform-origin:0 0">%</div>
<div class="abs" style="left:317px;top:82.2px;width:29.3px;height:6.2px;background:#fff"></div>
</body></html>
